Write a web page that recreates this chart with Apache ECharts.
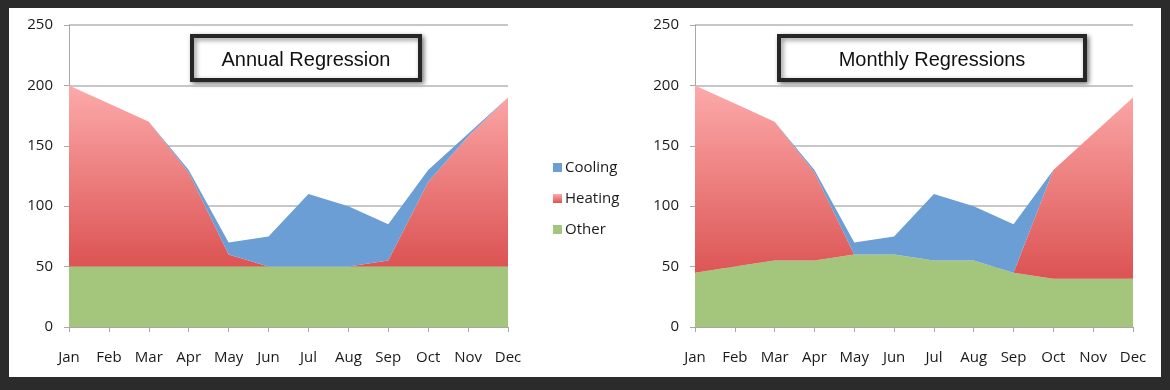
<!DOCTYPE html>
<html>
<head>
<meta charset="utf-8">
<script src="https://cdn.jsdelivr.net/npm/echarts@6/dist/echarts.min.js"></script>
<style>
  html, body { margin: 0; padding: 0; background: #2b2b2b; }
  #chart { width: 1170px; height: 390px; }
</style>
</head>
<body>
<div id="chart"></div>
<script>
const months = ['Jan','Feb','Mar','Apr','May','Jun','Jul','Aug','Sep','Oct','Nov','Dec'];
const yTicks = { min: 0, max: 250, interval: 50 };
const titles = ['Annual Regression', 'Monthly Regressions'];
const seriesNames = ['Cooling', 'Heating', 'Other'];

// Annual regression (stacked: Other, Heating, Cooling)
const annualOther   = [50, 50, 50, 50, 50, 50, 50, 50, 50, 50, 50, 50];
const annualHeating = [150, 135, 120, 78, 10, 0, 0, 0, 5, 70, 108, 140];
const annualCooling = [0, 0, 0, 2, 10, 25, 60, 50, 30, 10, 2, 0];

// Monthly regressions
const monthlyOther   = [45, 50, 55, 55, 60, 60, 55, 55, 45, 40, 40, 40];
const monthlyHeating = [155, 135, 115, 73, 0, 0, 0, 0, 0, 90, 120, 150];
const monthlyCooling = [0, 0, 0, 2, 10, 15, 55, 45, 40, 0, 0, 0];

const colors = {
  Cooling: '#6b9ed4',
  Heating: new echarts.graphic.LinearGradient(0, 0, 0, 1, [
    { offset: 0, color: '#fdaaaa' },
    { offset: 1, color: '#dc5353' }
  ]),
  Other: '#a3c67c'
};

const font = '"Open Sans", sans-serif';
const labelStyle = { color: '#1a1a1a', fontFamily: font, fontSize: 15 };

function xAxis(gi) {
  return {
    type: 'category', gridIndex: gi, data: months, boundaryGap: false,
    axisLine: { lineStyle: { color: '#a8a8a8', width: 1 } },
    axisTick: { show: true, length: 5, lineStyle: { color: '#a8a8a8' } },
    axisLabel: Object.assign({ margin: 23, interval: 0 }, labelStyle),
    splitLine: { show: false }
  };
}
function yAxis(gi) {
  return {
    type: 'value', gridIndex: gi, min: yTicks.min, max: yTicks.max, interval: yTicks.interval,
    axisLine: { show: true, lineStyle: { color: '#a8a8a8', width: 1 } },
    axisTick: { show: true, length: 5, lineStyle: { color: '#a8a8a8' } },
    axisLabel: Object.assign({ margin: 16 }, labelStyle),
    splitLine: { show: true, lineStyle: { color: '#b4b4b4', width: 1.5 } }
  };
}
function area(name, data, gi, stack) {
  return {
    name: name, type: 'line', xAxisIndex: gi, yAxisIndex: gi, stack: stack,
    data: data, showSymbol: false, symbol: 'none',
    lineStyle: { width: 0, opacity: 0 },
    areaStyle: { color: colors[name], opacity: 1 },
    itemStyle: { color: colors[name] },
    emphasis: { disabled: true },
    animation: false
  };
}
function titleBox(cx, w, text) {
  return {
    type: 'group', left: cx - w / 2, top: 34, z: 100,
    children: [
      { type: 'rect', shape: { x: 0, y: 0, width: w, height: 44 },
        style: { fill: '#fff', stroke: '#262626', lineWidth: 4,
                 shadowBlur: 5, shadowColor: 'rgba(0,0,0,0.45)', shadowOffsetX: 2, shadowOffsetY: 2 } },
      { type: 'text', x: w / 2, y: 24,
        style: { text: text, fill: '#111', font: '20px "Liberation Sans", Arial, sans-serif',
                 textAlign: 'center', textVerticalAlign: 'middle' } }
    ]
  };
}

const chart = echarts.init(document.getElementById('chart'), null, { renderer: 'canvas' });
chart.setOption({
  animation: false,
  backgroundColor: '#2b2b2b',
  graphic: [
    { type: 'rect', left: 9, top: 8, z: -10, silent: true,
      shape: { width: 1152, height: 369 }, style: { fill: '#ffffff' } },
    titleBox(304, 228, titles[0]),
    titleBox(930, 306, titles[1])
  ],
  legend: {
    data: seriesNames, orient: 'vertical', left: 548, top: 155, itemGap: 16,
    itemWidth: 9, itemHeight: 9, icon: 'rect',
    textStyle: { color: '#1a1a1a', fontFamily: font, fontSize: 15, padding: [0, 0, 0, -2] }
  },
  grid: [
    { left: 69, top: 25, width: 439, height: 302 },
    { left: 695, top: 25, width: 438, height: 302 }
  ],
  xAxis: [xAxis(0), xAxis(1)],
  yAxis: [yAxis(0), yAxis(1)],
  series: [
    area('Other', annualOther, 0, 'a'),
    area('Heating', annualHeating, 0, 'a'),
    area('Cooling', annualCooling, 0, 'a'),
    area('Other', monthlyOther, 1, 'm'),
    area('Heating', monthlyHeating, 1, 'm'),
    area('Cooling', monthlyCooling, 1, 'm')
  ]
});
</script>
</body>
</html>
